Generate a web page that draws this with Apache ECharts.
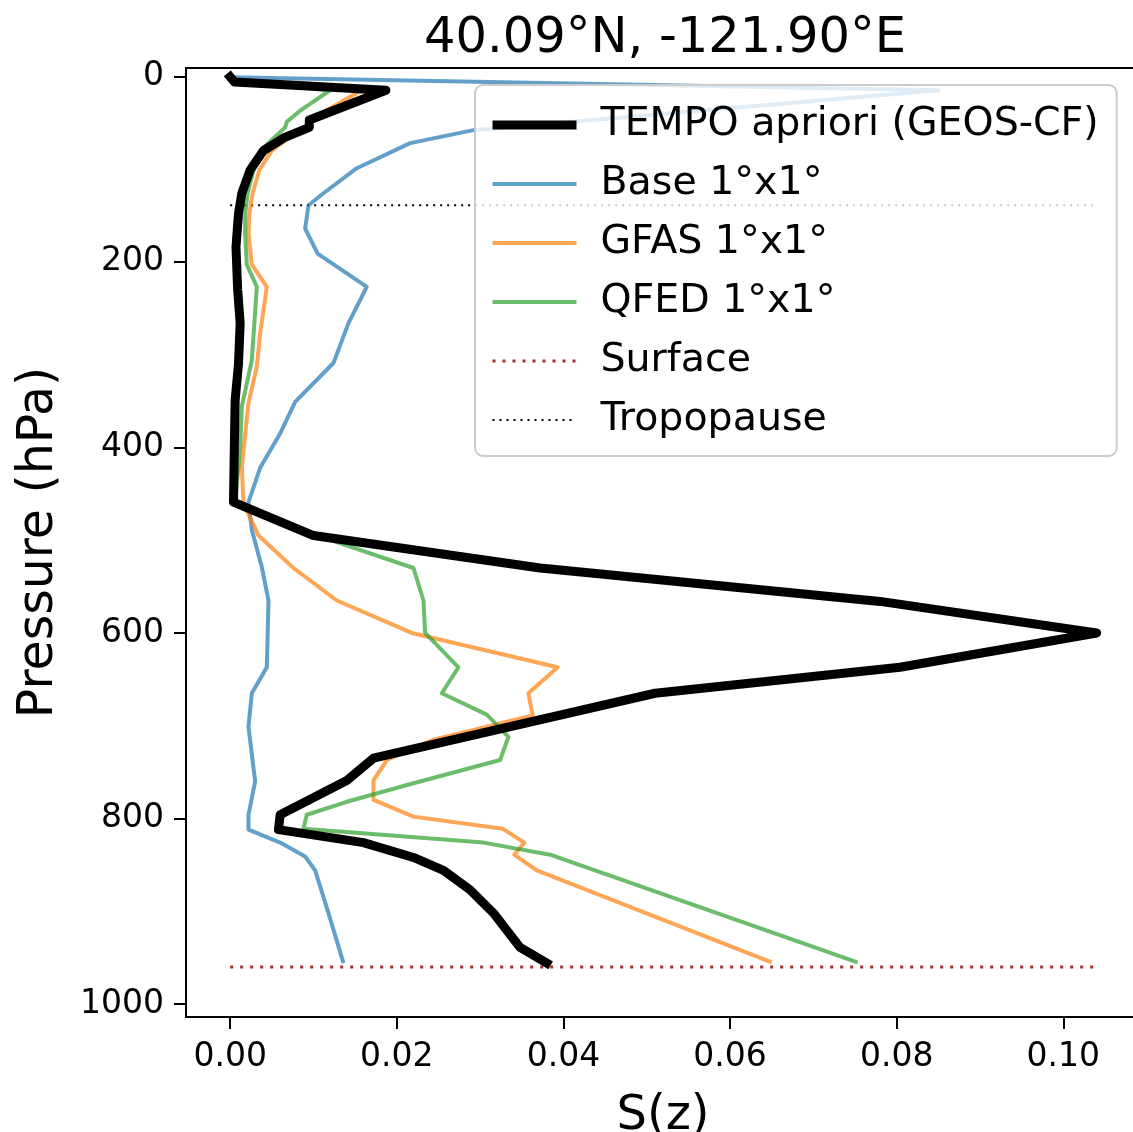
<!DOCTYPE html>
<html>
<head>
<meta charset="utf-8">
<script src="https://cdn.jsdelivr.net/npm/echarts@6/dist/echarts.min.js"></script>
<style>
  html, body { margin: 0; padding: 0; background: #fff; }
  #chart { width: 1133px; height: 1132px; }
</style>
</head>
<body>
<div id="chart"></div>
<script>
// profiles: pressure (hPa) and S(z)
var tempoP = [0.5, 6, 15, 47, 55, 66, 80, 101, 126, 148, 184, 230, 266, 310, 349, 400, 459, 495, 530, 566, 600, 637, 665, 735, 759, 796, 812, 826, 842, 856, 877, 902, 939, 956];
var tempoS = [0.0, 0.0005, 0.0187, 0.0095, 0.0095, 0.0065, 0.004, 0.0024, 0.0014, 0.001, 0.0007, 0.0009, 0.0012, 0.001, 0.0006, 0.0005, 0.0004, 0.010, 0.0372, 0.078, 0.104, 0.0804, 0.051, 0.0172, 0.014, 0.006, 0.0058, 0.016, 0.022, 0.0256, 0.0288, 0.0316, 0.0348, 0.038];

var baseP = [1, 15, 58, 72, 99, 126, 139, 164, 191, 227, 266, 309, 351, 385, 422, 459, 489, 529, 565, 637, 665, 701, 760, 796, 812, 826, 841, 856, 902, 956];
var baseS = [0.0, 0.085, 0.0292, 0.0216, 0.0152, 0.0112, 0.0094, 0.009, 0.0105, 0.0164, 0.0142, 0.0124, 0.0078, 0.006, 0.0036, 0.0022, 0.0026, 0.0038, 0.0046, 0.0044, 0.0026, 0.0022, 0.003, 0.0022, 0.0022, 0.006, 0.009, 0.0102, 0.0118, 0.0136];

var gfasP = [1, 6, 15, 47, 55, 66, 80, 101, 126, 148, 170, 203, 227, 277, 313, 352, 421, 460, 495, 530, 565, 600, 637, 665, 689, 715, 737, 759, 780, 798, 811, 826, 839, 856, 955];
var gfasS = [0.0, 0.0005, 0.0158, 0.0095, 0.0092, 0.007, 0.005, 0.0035, 0.0027, 0.0023, 0.0022, 0.0026, 0.0044, 0.0036, 0.0032, 0.0022, 0.0014, 0.0016, 0.0034, 0.0076, 0.0128, 0.0218, 0.0393, 0.0358, 0.0363, 0.0244, 0.0188, 0.0172, 0.0172, 0.022, 0.0327, 0.0353, 0.0341, 0.0368, 0.065];

var qfedP = [1, 6, 15, 37, 49, 55, 77, 101, 126, 148, 170, 203, 227, 306, 356, 400, 459, 495, 530, 565, 600, 637, 665, 688, 712, 737, 762, 782, 796, 811, 826, 839, 955];
var qfedS = [0.0, 0.0005, 0.012, 0.0084, 0.0068, 0.0066, 0.004, 0.0028, 0.0021, 0.0018, 0.0018, 0.002, 0.0032, 0.0026, 0.0014, 0.0012, 0.0006, 0.0105, 0.022, 0.0232, 0.0234, 0.0274, 0.0254, 0.0308, 0.0334, 0.0324, 0.022, 0.014, 0.0092, 0.0088, 0.0304, 0.0384, 0.0753];

var surfaceP = 960;
var tropopauseP = 139;
var refLineS = [0.0, 0.104];

var xTicks = [0.00, 0.02, 0.04, 0.06, 0.08, 0.10];
var yTicks = [0, 200, 400, 600, 800, 1000];

function pairs(s, p) {
    return s.map(function (v, i) { return [v, p[i]]; });
}

var font = 'DejaVu Sans';
var chart = echarts.init(document.getElementById('chart'));

var option = {
    animation: false,
    backgroundColor: '#fff',
    title: {
        text: '40.09°N, -121.90°E',
        left: 660,
        top: 9,
        textAlign: 'center',
        textStyle: { fontFamily: font, fontWeight: 'normal', fontSize: 49.5, color: '#000' }
    },
    grid: {
        left: 186,
        top: 68,
        width: 954,
        height: 949,
        outerBoundsMode: 'none',
        show: true,
        borderColor: '#000',
        borderWidth: 2
    },
    legend: {
        orient: 'vertical',
        left: 475,
        top: 85,
        padding: [18, 18, 14, 13],
        itemWidth: 84,
        itemHeight: 14,
        itemGap: 15,
        backgroundColor: 'rgba(255,255,255,0.8)',
        borderColor: '#cccccc',
        borderWidth: 2,
        borderRadius: 8,
        itemStyle: { opacity: 0 },
        textStyle: { fontFamily: font, fontSize: 39.5, color: '#000', lineHeight: 44, padding: [0, 0, 0, 19] },
        data: [
            { name: 'TEMPO apriori (GEOS-CF)', lineStyle: { width: 9, cap: 'butt' } },
            { name: 'Base 1°x1°', lineStyle: { width: 4 } },
            { name: 'GFAS 1°x1°', lineStyle: { width: 4 } },
            { name: 'QFED 1°x1°', lineStyle: { width: 4 } },
            { name: 'Surface', lineStyle: { width: 3 } },
            { name: 'Tropopause', lineStyle: { width: 2 } }
        ]
    },
    xAxis: {
        type: 'value',
        min: -0.0053,
        max: 0.1092,
        name: 'S(z)',
        nameLocation: 'middle',
        nameGap: 76,
        nameTextStyle: { fontFamily: font, fontSize: 48, color: '#000' },
        axisLine: { show: true, onZero: false, lineStyle: { color: '#000', width: 2 } },
        axisTick: { show: true, customValues: xTicks, length: 12, lineStyle: { color: '#000', width: 2 } },
        axisLabel: {
            customValues: xTicks,
            margin: 24,
            fontFamily: font, fontSize: 33, color: '#000',
            formatter: function (v) { return v.toFixed(2); }
        },
        splitLine: { show: false }
    },
    yAxis: {
        type: 'value',
        inverse: true,
        min: -9,
        max: 1014,
        name: 'Pressure (hPa)',
        nameLocation: 'middle',
        nameRotate: 90,
        nameGap: 122,
        nameTextStyle: { fontFamily: font, fontSize: 49, color: '#000' },
        axisLine: { show: true, onZero: false, lineStyle: { color: '#000', width: 2 } },
        axisTick: { show: true, customValues: yTicks, length: 12, lineStyle: { color: '#000', width: 2 } },
        axisLabel: {
            customValues: yTicks,
            margin: 22,
            fontFamily: font, fontSize: 33, color: '#000',
            formatter: function (v) { return String(v); }
        },
        splitLine: { show: false }
    },
    series: [
        {
            name: 'TEMPO apriori (GEOS-CF)',
            type: 'line',
            z: 5,
            symbol: 'none',
            data: pairs(tempoS, tempoP),
            lineStyle: { color: '#000', width: 9, cap: 'square', join: 'round' },
            itemStyle: { color: '#000' }
        },
        {
            name: 'Base 1°x1°',
            type: 'line',
            z: 3,
            symbol: 'none',
            data: pairs(baseS, baseP),
            lineStyle: { color: '#1f77b4', width: 4, opacity: 0.7, join: 'round' },
            itemStyle: { color: '#1f77b4' }
        },
        {
            name: 'GFAS 1°x1°',
            type: 'line',
            z: 3,
            symbol: 'none',
            data: pairs(gfasS, gfasP),
            lineStyle: { color: '#ff7f0e', width: 4, opacity: 0.7, join: 'round' },
            itemStyle: { color: '#ff7f0e' }
        },
        {
            name: 'QFED 1°x1°',
            type: 'line',
            z: 3,
            symbol: 'none',
            data: pairs(qfedS, qfedP),
            lineStyle: { color: '#2ca02c', width: 4, opacity: 0.7, join: 'round' },
            itemStyle: { color: '#2ca02c' }
        },
        {
            name: 'Surface',
            type: 'line',
            z: 2,
            symbol: 'none',
            data: refLineS.map(function (s) { return [s, surfaceP]; }),
            lineStyle: { color: '#a83232', width: 3, type: [3, 7] },
            itemStyle: { color: '#a83232' }
        },
        {
            name: 'Tropopause',
            type: 'line',
            z: 2,
            symbol: 'none',
            data: refLineS.map(function (s) { return [s, tropopauseP]; }),
            lineStyle: { color: '#000', width: 2, type: [2, 5] },
            itemStyle: { color: '#000' }
        }
    ]
};

chart.setOption(option);
</script>
</body>
</html>
